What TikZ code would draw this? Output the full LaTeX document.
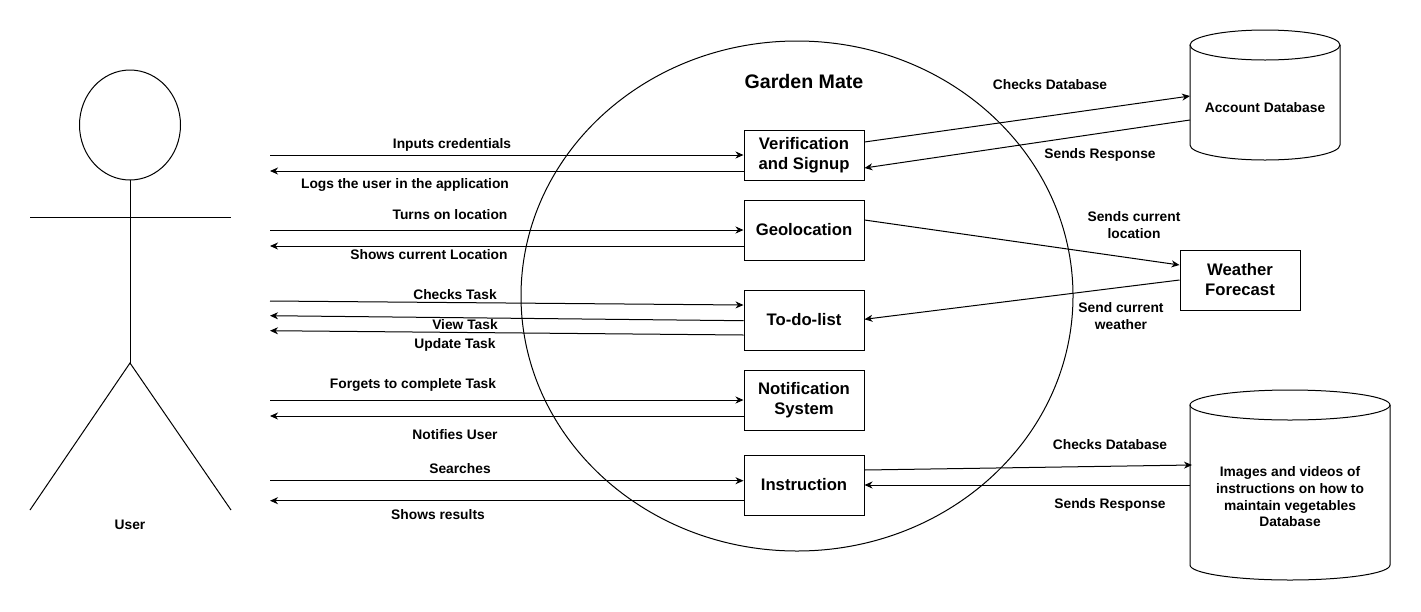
\documentclass[tikz,border=0pt]{standalone}
\usepackage{fontspec}
\setmainfont{Liberation Sans}
\usetikzlibrary{arrows.meta,calc}
\begin{document}
\begin{tikzpicture}[x=1pt,y=-1pt,
  line width=1pt,
  arr/.style={-{Stealth[length=8pt,width=7pt,inset=2.5pt]}},
  box/.style={draw, line width=1pt, minimum width=120pt, align=center, inner sep=2pt,
     font=\bfseries\fontsize{16.7}{20}\selectfont},
  lbl/.style={font=\bfseries\fontsize{13.8}{16.7}\selectfont, align=center, inner sep=0pt},
]
\useasboundingbox (0,0) rectangle (1421,611);

% stick figure user
\draw (130,125) ellipse [x radius=50.5pt, y radius=55pt];
\coordinate (neck) at (130,180);
\coordinate (hip) at (130,363);
\coordinate (lh) at (30,217);
\coordinate (rh) at (231,217);
\coordinate (lf) at (30,510);
\coordinate (rf) at (231,510);
\draw (neck) -- (hip);
\draw (lh) -- (rh);
\draw (lf) -- (hip) -- (rf);
\node[lbl] (user) at (130,525) {User};

% system boundary
\draw (797,296) ellipse [x radius=276pt, y radius=255pt];
\node[font=\bfseries\fontsize{19.6}{23}\selectfont] (title) at (804,81) {Garden Mate};

% process boxes
\node[box, minimum height=50pt] (ver) at (804,155) {Verification\\and Signup};
\node[box, minimum height=60pt] (geo) at (804,230) {Geolocation};
\node[box, minimum height=60pt] (todo) at (804,320) {To-do-list};
\node[box, minimum height=60pt] (noti) at (804,400) {Notification\\System};
\node[box, minimum height=60pt] (inst) at (804,485) {Instruction};
\node[box, minimum height=60pt] (wea) at (1240,280) {Weather\\Forecast};

% account database cylinder
\draw[fill=white] (1190,45) -- (1190,145) arc[start angle=180, end angle=360, x radius=75pt, y radius=15pt] -- (1340,45);
\draw (1265,45) ellipse [x radius=75pt, y radius=15pt];
\node[lbl] (acc) at (1265,108) {Account Database};
\coordinate (accin) at (1190,96);
\coordinate (accout) at (1190,120);

% instructions database cylinder
\draw (1190,405) -- (1190,565) arc[start angle=180, end angle=360, x radius=100pt, y radius=15pt] -- (1390,405);
\draw (1290,405) ellipse [x radius=100pt, y radius=15pt];
\node[lbl] (idb) at (1290,497) {Images and videos of\\instructions on how to\\maintain vegetables\\Database};
\coordinate (idbin) at (1192,465);
\coordinate (idbout) at (1190,485);

% user-side free ends
\coordinate (u1) at (270,155);
\coordinate (u2) at (270,171);
\coordinate (u3) at (270,230);
\coordinate (u4) at (270,246);
\coordinate (u5) at (270,301);
\coordinate (u6) at (270,315.7);
\coordinate (u7) at (270,330.7);
\coordinate (u8) at (270,400);
\coordinate (u9) at (270,416);
\coordinate (u10) at (270,480.7);
\coordinate (u11) at (270,500.7);

% user <-> processes
\draw[arr] (u1) -- (u1 -| ver.west);
\draw[arr] (u2 -| ver.west) -- (u2);
\draw[arr] (u3) -- (u3 -| geo.west);
\draw[arr] (u4 -| geo.west) -- (u4);
\draw[arr] (u5) -- ($(todo.west)+(0,-15)$);
\draw[arr] ($(todo.west)+(0,0.7)$) -- (u6);
\draw[arr] ($(todo.west)+(0,15)$) -- (u7);
\draw[arr] (u8) -- (u8 -| noti.west);
\draw[arr] (u9 -| noti.west) -- (u9);
\draw[arr] (u10) -- (u10 -| inst.west);
\draw[arr] (u11 -| inst.west) -- (u11);

% labels left
\node[lbl] at (452,145) {Inputs credentials};
\node[lbl] at (405,185) {Logs the user in the application};
\node[lbl] at (450,215) {Turns on location};
\node[lbl] at (429,255) {Shows current Location};
\node[lbl] at (455,295) {Checks Task};
\node[lbl] at (465,325) {View Task};
\node[lbl] at (455,345) {Update Task};
\node[lbl] at (413,385) {Forgets to complete Task};
\node[lbl] at (455,435) {Notifies User};
\node[lbl] at (460,469) {Searches};
\node[lbl] at (438,515) {Shows results};

% process <-> external
\draw[arr] ($(ver.east)+(0,-13)$) -- (accin);
\draw[arr] (accout) -- ($(ver.east)+(0,13)$);
\draw[arr] ($(geo.east)+(0,-10)$) -- ($(wea.west)+(0,-15)$);
\draw[arr] (wea.west) -- ($(todo.east)+(0,-0.7)$);
\draw[arr] ($(inst.east)+(0,-15)$) -- (idbin);
\draw[arr] (idbout) -- (inst.east);

% labels right
\node[lbl] at (1050,85) {Checks Database};
\node[lbl] at (1100,155) {Sends Response};
\node[lbl] at (1134,225) {Sends current\\location};
\node[lbl] at (1121,316) {Send current\\weather};
\node[lbl] at (1110,445) {Checks Database};
\node[lbl] at (1110,505) {Sends Response};
\end{tikzpicture}
\end{document}
